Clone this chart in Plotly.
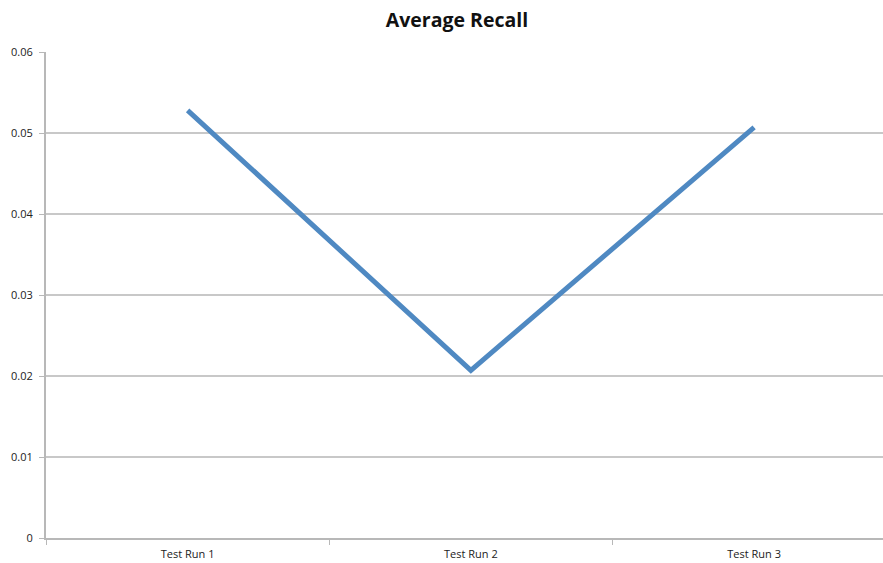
import plotly.graph_objects as go

runs = ["Test Run 1", "Test Run 2", "Test Run 3"]
avg_recall = [0.0528, 0.0207, 0.0507]
y_ticks = [0, 0.01, 0.02, 0.03, 0.04, 0.05, 0.06]
y_labels = ["0", "0.01", "0.02", "0.03", "0.04", "0.05", "0.06"]

fig = go.Figure()

fig.add_trace(
    go.Scatter(
        x=runs,
        y=avg_recall,
        mode="lines",
        line=dict(color="#4F89C2", width=5),
        showlegend=False,
    )
)

fig.update_layout(
    width=883,
    height=563,
    margin=dict(l=46, r=0, t=52, b=25),
    paper_bgcolor="white",
    plot_bgcolor="white",
    font=dict(family="Open Sans, Liberation Sans, sans-serif", size=11, color="#222222"),
    title=dict(
        text="<b>Average Recall</b>",
        x=0.5175,
        xanchor="center",
        y=0.965,
        yanchor="middle",
        font=dict(size=19.5, color="#111111", family="Open Sans, Liberation Sans, sans-serif"),
    ),
)

fig.update_xaxes(
    range=[-0.5, 2.455],
    showgrid=False,
    showline=True,
    linecolor="#b8b8b8",
    linewidth=2,
    ticks="outside",
    tickson="boundaries",
    ticklen=5,
    tickcolor="#b8b8b8",
    ticklabelstandoff=5,
    tickfont=dict(size=11),
)

fig.update_yaxes(
    range=[0, 0.06],
    tickvals=y_ticks,
    ticktext=y_labels,
    showgrid=True,
    gridcolor="#c8c8c8",
    gridwidth=2,
    zeroline=False,
    showline=True,
    linecolor="#b8b8b8",
    linewidth=2,
    ticks="outside",
    ticklen=5,
    tickcolor="#b8b8b8",
    ticklabelstandoff=4,
    tickfont=dict(size=11),
)

# drop the default 8px body margin so the figure fills the window exactly
fig.write_html(
    "out.html",
    config={"displayModeBar": False},
    post_script="document.body.style.margin='0';",
)
